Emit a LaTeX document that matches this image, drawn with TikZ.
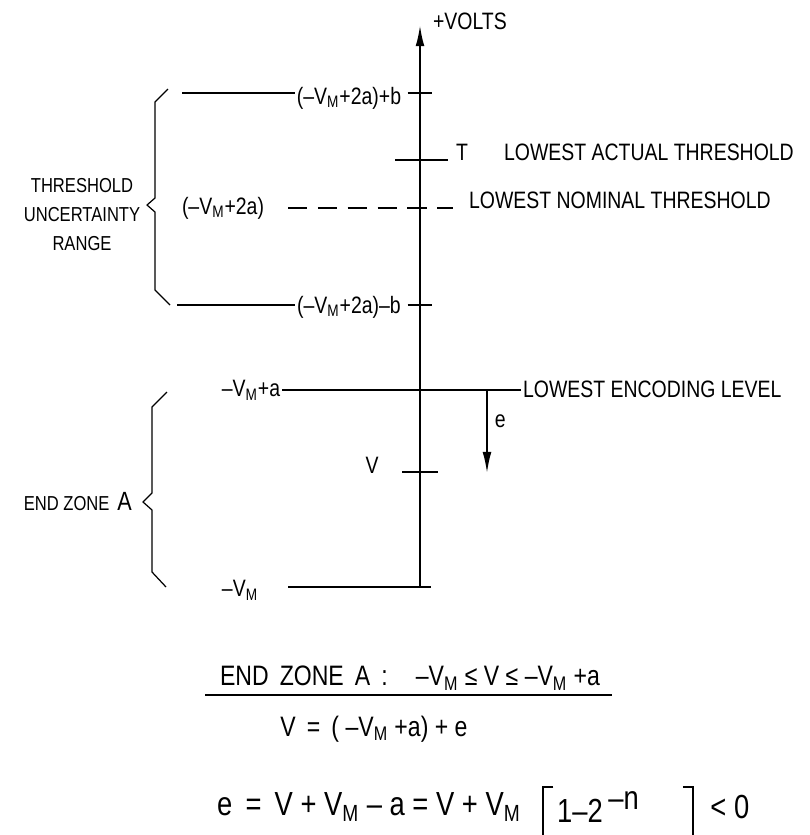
\documentclass[tikz,border=0pt]{standalone}
\usepackage{fontspec}
\setmainfont{Liberation Sans}[FakeStretch=0.82]
\usetikzlibrary{positioning, arrows.meta, calc}

\begin{document}
\begin{tikzpicture}[
        lbl/.style={font=\fontsize{13.5}{15}\selectfont, inner sep=1pt},
        side/.style={font=\fontsize{11.5}{16.5}\selectfont, align=center},
        eqn/.style={font=\fontsize{16}{18}\selectfont, inner sep=1pt},
        big/.style={font=\fontsize{19}{21}\selectfont, inner sep=1pt},
        level/.style={line width=0.6pt},
        tick/.style={line width=0.8pt},
        arr/.style={-{Latex[length=12pt,width=5pt]}, line width=1pt},
        brc/.style={line width=0.7pt, line join=round},
        brk/.style={line width=1pt},
        >=Stealth
    ]
    \useasboundingbox (0,0) rectangle (16.2,-16.7);
    % Voltage axis
    \coordinate (bot) at (8.4,-11.74);
    \coordinate (top) at (8.4,-0.5);
    \draw[arr, line width=1.2pt] (bot) -- (top);
    \node[lbl, anchor=west] (volts) at (8.62,-0.42) {+VOLTS};
    % Levels on the axis
    \coordinate (lvBp) at (8.4,-1.86);
    \coordinate (lvT)  at (8.4,-3.2);
    \coordinate (lvN)  at (8.4,-4.16);
    \coordinate (lvBm) at (8.4,-6.1);
    \coordinate (lvE)  at (8.4,-7.8);
    \coordinate (lvV)  at (8.4,-9.44);
    % Threshold uncertainty range
    \node[lbl] (bplus) at (6.98,-1.96) {(–V\textsubscript{M}+2a)+b};
    \coordinate (bplusL) at (3.64,-1.86);
    \draw[level] (bplusL) -- (bplusL -| bplus.west);
    \draw[tick] ([xshift=-7pt]lvBp) -- ([xshift=7pt]lvBp);
    \draw[tick] ([xshift=-14pt]lvT) coordinate (tL) -- ([xshift=16pt]lvT) coordinate (tR);
    \node[lbl, anchor=west] (tlbl) at (9.08,-3.04) {T};
    \node[lbl, anchor=west] (actual) at (10.04,-3.04) {LOWEST ACTUAL THRESHOLD};
    \node[lbl] (nomv) at (4.46,-4.16) {(–V\textsubscript{M}+2a)};
    \coordinate (nomL) at (5.76,-4.16);
    \node[lbl, anchor=west] (nominal) at (9.34,-4.0) {LOWEST NOMINAL THRESHOLD};
    \draw[level, dash pattern=on 11pt off 6pt, shorten >=8pt] (nomL) -- (nomL -| nominal.west);
    \node[lbl] (bminus) at (6.98,-6.14) {(–V\textsubscript{M}+2a)–b};
    \coordinate (bminusL) at (3.54,-6.1);
    \draw[level] (bminusL) -- (bminusL -| bminus.west);
    \draw[tick] ([xshift=-7pt]lvBm) -- ([xshift=7pt]lvBm);
    \draw[brc] (3.36,-1.78) -- (3.1,-2.04) -- (3.1,-3.96) -- (2.94,-4.1)
        -- (3.1,-4.24) -- (3.1,-5.8) -- (3.4,-6.1);
    \node[side] (range) at (1.64,-4.3) {THRESHOLD\\UNCERTAINTY\\RANGE};
    % End zone A
    \node[lbl] (encv) at (5.02,-7.8) {–V\textsubscript{M}+a};
    \node[lbl, anchor=west] (enc) at (10.42,-7.78) {LOWEST ENCODING LEVEL};
    \draw[level] (encv.east) -- (enc.west |- lvE) coordinate (encR);
    \coordinate (eTop) at (9.74,-7.8);
    \coordinate (eBot) at (9.74,-9.46);
    \draw[arr] (eTop) -- (eBot) node[midway, right=3pt, lbl, yshift=6pt] {e};
    \draw[tick] ([xshift=-10pt]lvV) -- ([xshift=10pt]lvV);
    \node[lbl] (vlbl) at (7.44,-9.3) {V};
    \node[lbl] (vm) at (4.8,-11.8) {–V\textsubscript{M}};
    \coordinate (vmL) at (5.76,-11.74);
    \draw[level, line width=0.8pt] (vmL) -- ([xshift=6pt]bot);
    \draw[brc] (3.34,-7.84) -- (3.04,-8.14) -- (3.04,-9.86) -- (2.86,-10.04)
        -- (3.04,-10.2) -- (3.04,-11.44) -- (3.32,-11.74);
    \node[lbl, font=\fontsize{11.5}{13}\selectfont, anchor=east] (zone) at (2.68,-10.04)
        {END ZONE \,{\fontsize{15}{15}\selectfont A}};
    % Relations
    \node[eqn] (cond) at (8.2,-13.56)
        {END\, ZONE\, A\, :\quad –V\textsubscript{M} ≤ V ≤ –V\textsubscript{M} +a};
    \draw[level, line width=0.8pt] (4.1,-13.9) coordinate (ulL) -- (12.24,-13.9) coordinate (ulR);
    \node[eqn] (vdef) at (7.48,-14.58)
        {V \,=\, ( –V\textsubscript{M} +a) + e};
    \node[big, anchor=west] (edefL) at (4.3,-16.14)
        {e \,=\, V + V\textsubscript{M} – a = V + V\textsubscript{M}};
    \node[big, right=0.4cm of edefL, minimum height=0.8cm, inner xsep=8pt] (edefM)
        {1–2\,\raisebox{0.4em}{–n}\kern1.2em};
    \node[big, right=0.3cm of edefM] (edefR) {< 0};
    \draw[brk] ([xshift=6pt]edefM.north west) -- (edefM.north west)
        -- ([yshift=-8pt]edefM.south west) -- ([shift={(6pt,-8pt)}]edefM.south west);
    \draw[brk] ([xshift=-6pt]edefM.north east) -- (edefM.north east)
        -- ([yshift=-8pt]edefM.south east) -- ([shift={(-6pt,-8pt)}]edefM.south east);
\end{tikzpicture}
\end{document}
